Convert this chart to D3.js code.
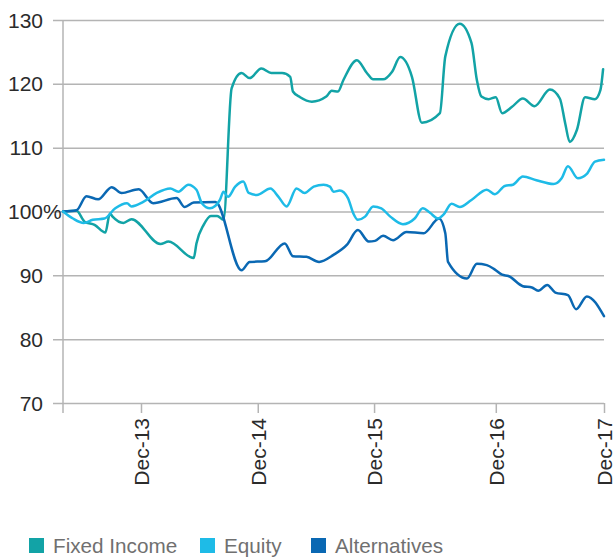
<!DOCTYPE html>
<html>
<head>
<meta charset="utf-8">
<script src="https://cdn.jsdelivr.net/npm/d3@7"></script>
<style>
  html, body { margin: 0; padding: 0; background: #ffffff; }
  svg { display: block; }
</style>
</head>
<body>
<svg id="chart" width="613" height="557"></svg>
<script>
// ---- data (x = period index, ticks placed on the same index) ----
const xTickLabels = ["Dec-13", "Dec-14", "Dec-15", "Dec-16", "Dec-17"];
const xTickValues = [8.65, 21.6, 34.5, 48.0, 60];
const yTickValues = [70, 80, 90, 100, 110, 120, 130];
const yTickLabels = ["70", "80", "90", "100%", "110", "120", "130"];
const seriesNames = ["Fixed Income", "Equity", "Alternatives"];

const fixedIncomeX = [0, 1.5, 2.4, 3.5, 4.7, 5.2, 5.5, 6.7, 7.6, 10.8, 11.7, 14.5, 14.8, 15.6, 16.4, 17.1, 17.8,
  18.7, 19.8, 20.7, 22.0, 23.1, 24.3, 25.2, 25.5, 26.3, 27.6, 29.2, 29.8, 30.5, 31.1, 32.6, 33.7, 34.4, 35.5,
  36.5, 37.4, 38.7, 39.8, 41.8, 42.4, 44.0, 45.3, 45.9, 46.4, 47.2, 48.0, 48.7, 49.8, 51.0, 52.3, 54.0, 55.1,
  55.7, 56.2, 57.0, 57.9, 59.0, 59.6, 59.9];
const fixedIncomeV = [100, 100.1, 98.4, 97.9, 96.7, 99.7, 99.2, 98.2, 98.8, 94.9, 95.3, 92.7, 95.0, 97.9, 99.3, 99.3, 98.7,
  119.3, 121.7, 120.9, 122.4, 121.7, 121.7, 121.1, 118.8, 117.9, 117.2, 118.0, 118.9, 118.8, 120.6, 123.7, 121.7, 120.7, 120.7,
  121.9, 124.2, 121.1, 113.9, 115.4, 124.3, 129.4, 126.4, 120.6, 118.0, 117.6, 117.9, 115.4, 116.4, 117.7, 116.5, 119.1, 117.7,
  113.8, 110.9, 112.8, 117.9, 117.6, 119.0, 122.3];

const equityX = [0, 1.1, 2.3, 3.3, 4.6, 5.8, 7.1, 7.6, 8.9, 10.4, 11.9, 12.8, 13.9, 14.8, 15.4, 16.3, 17.4, 17.8, 18.3,
  19.1, 20.0, 20.6, 21.5, 23.0, 23.9, 24.8, 25.9, 26.8, 27.8, 28.9, 29.6, 30.0, 30.7, 31.6, 32.2, 32.7, 33.5, 34.4,
  35.3, 36.3, 37.7, 39.0, 39.9, 40.7, 41.6, 42.2, 43.1, 44.0, 45.3, 47.0, 47.9, 49.0, 49.9, 51.0, 52.5, 54.4, 55.3,
  56.0, 57.1, 58.1, 59.0, 60];
const equityV = [100, 98.9, 98.2, 98.7, 98.9, 100.5, 101.3, 100.8, 101.5, 102.9, 103.6, 103.1, 104.2, 103.4, 101.3, 100.5, 101.8, 103.1, 102.3,
  103.9, 104.7, 102.9, 102.6, 103.6, 102.3, 100.8, 103.6, 102.9, 103.9, 104.2, 103.9, 103.1, 103.3, 102.1, 99.7, 98.7, 99.2, 100.8,
  100.5, 99.2, 98.0, 98.9, 100.5, 99.8, 98.9, 99.5, 101.2, 100.7, 101.8, 103.4, 102.7, 104.0, 104.2, 105.5, 104.9, 104.3, 105.2,
  107.1, 105.2, 105.9, 107.8, 108.1];

const alternativesX = [0, 1.5, 2.6, 3.9, 5.4, 6.5, 8.4, 10.0, 12.6, 13.5, 14.5, 16.9, 19.8, 20.7, 22.4, 24.6, 25.5, 27.0,
  28.4, 30.0, 31.5, 32.7, 33.9, 34.6, 35.5, 36.6, 38.1, 40.0, 41.7, 42.4, 42.7, 44.8, 45.9, 47.0, 47.9, 48.7, 49.4,
  51.0, 52.0, 52.7, 53.7, 54.6, 56.0, 56.9, 58.1, 60];
const alternativesV = [100, 100.2, 102.4, 101.9, 103.8, 102.9, 103.5, 101.3, 102.1, 100.7, 101.4, 101.5, 90.8, 92.1, 92.2, 95.0, 93.0, 92.9,
  92.1, 93.2, 94.8, 97.1, 95.3, 95.4, 96.2, 95.5, 96.8, 96.6, 98.9, 96.6, 92.1, 89.5, 91.8, 91.6, 90.9, 90.1, 89.9,
  88.3, 88.1, 87.6, 88.5, 87.3, 86.9, 84.7, 86.7, 83.6];

const seriesColors = ["#12a3a6", "#1ebbe7", "#0a68b3"];

// ---- layout ----
const svg = d3.select("#chart");
const plotLeft = 63, plotRight = 604, plotTop = 20, plotBottom = 403;
const font = "'Liberation Sans', Arial, Helvetica, sans-serif";

const x = d3.scaleLinear().domain([0, 60]).range([plotLeft, plotRight]);
const y = d3.scaleLinear().domain([70, 130]).range([plotBottom, plotTop]);

// gridlines with left tick stubs
svg.append("g")
  .attr("transform", `translate(${plotRight},0)`)
  .call(d3.axisLeft(y).tickValues(yTickValues).tickSize(plotRight - plotLeft + 10).tickFormat(""))
  .call(g => g.select(".domain").remove())
  .call(g => g.selectAll(".tick line").attr("stroke", "#b4b4b4").attr("stroke-width", 1.5));

// y labels: numeric part right-aligned at x=43, "%" overhangs
const yLab = svg.append("g");
yTickValues.forEach((v, i) => {
  const lab = yTickLabels[i];
  const t = yLab.append("text")
    .attr("y", y(v))
    .attr("dy", "0.36em")
    .attr("font-family", font)
    .attr("font-size", 21)
    .attr("fill", "#2b2b2b")
    .text(lab);
  const numLen = lab.replace("%", "").length;
  const w = t.node().getSubStringLength(0, numLen);
  t.attr("x", 43 - w);
});

// y axis vertical line
svg.append("line")
  .attr("x1", plotLeft).attr("x2", plotLeft)
  .attr("y1", plotTop).attr("y2", plotBottom + 10)
  .attr("stroke", "#b4b4b4").attr("stroke-width", 1.5);

// x axis
const xAxis = d3.axisBottom(x)
  .tickValues(xTickValues)
  .tickSize(10)
  .tickFormat((d, i) => xTickLabels[i]);
svg.append("g")
  .attr("transform", `translate(0,${plotBottom})`)
  .call(xAxis)
  .call(g => g.select(".domain").remove())
  .call(g => g.selectAll(".tick line").attr("stroke", "#b4b4b4").attr("stroke-width", 1.5))
  .call(g => g.selectAll(".tick text")
    .attr("font-family", font)
    .attr("font-size", 21)
    .attr("fill", "#2b2b2b")
    .attr("transform", "rotate(-90)")
    .attr("text-anchor", "end")
    .attr("x", -15)
    .attr("y", 0)
    .attr("dy", "0.36em"));

// lines
const xs = [fixedIncomeX, equityX, alternativesX];
const vs = [fixedIncomeV, equityV, alternativesV];
const line = d3.line().x(d => x(d[0])).y(d => y(d[1])).curve(d3.curveMonotoneX);
[0, 2, 1].forEach(k => {
  const pts = xs[k].map((t, i) => [t, vs[k][i]]);
  svg.append("path")
    .datum(pts)
    .attr("d", line)
    .attr("fill", "none")
    .attr("stroke", seriesColors[k])
    .attr("stroke-width", 2.5)
    .attr("stroke-linejoin", "round")
    .attr("stroke-linecap", "round");
});

// legend
const legendX = [29, 200, 311];
const legend = svg.append("g");
seriesNames.forEach((name, i) => {
  legend.append("rect")
    .attr("x", legendX[i]).attr("y", 538)
    .attr("width", 15).attr("height", 15)
    .attr("fill", seriesColors[i]);
  legend.append("text")
    .attr("x", legendX[i] + 24).attr("y", 545.5)
    .attr("dy", "0.36em")
    .attr("font-family", font)
    .attr("font-size", 20.7)
    .attr("fill", "#707070")
    .text(name);
});
</script>
</body>
</html>
